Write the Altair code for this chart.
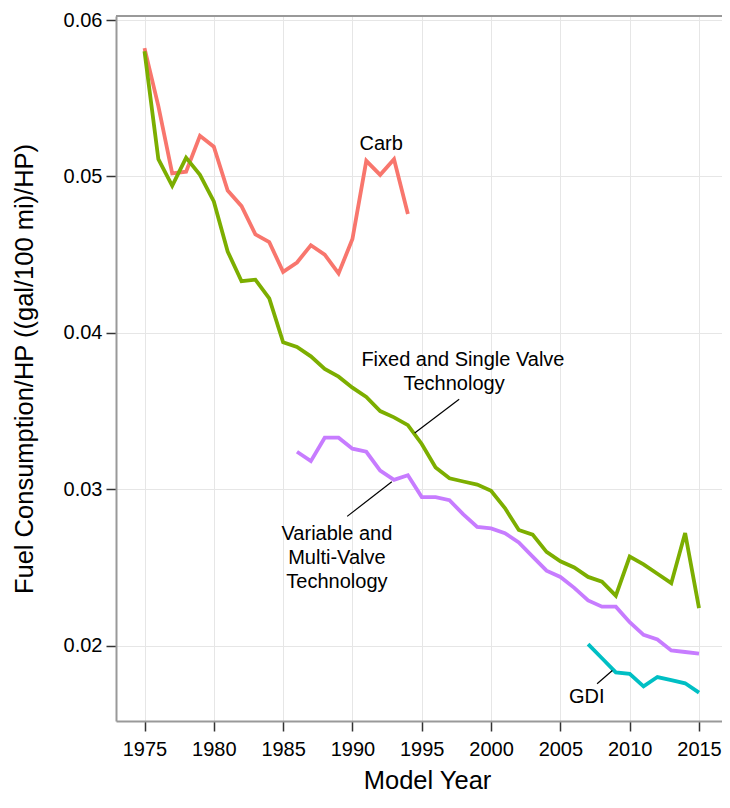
import altair as alt
import pandas as pd

# ---- data ----
carb_years = list(range(1975, 1995))
carb_vals = [0.0582, 0.0545, 0.0502, 0.0503, 0.0526, 0.0519, 0.0491, 0.0481, 0.0463, 0.0458,
             0.0439, 0.0445, 0.0456, 0.0450, 0.0438, 0.0460, 0.0510, 0.0501, 0.0511, 0.0476]

fixed_years = list(range(1975, 2016))
fixed_vals = [0.0580, 0.0511, 0.0494, 0.0512, 0.0501, 0.0484, 0.0452, 0.0433, 0.0434, 0.0422,
              0.0394, 0.0391, 0.0385, 0.0377, 0.0372, 0.0365, 0.0359, 0.0350, 0.0346, 0.0341,
              0.0329, 0.0314, 0.0307, 0.0305, 0.0303, 0.0299, 0.0288, 0.0274, 0.0271, 0.0260,
              0.0254, 0.0250, 0.0244, 0.0241, 0.0232, 0.0257, 0.0252, 0.0246, 0.0240, 0.0272,
              0.0224]

var_years = list(range(1986, 2016))
var_vals = [0.0324, 0.0318, 0.0333, 0.0333, 0.0326, 0.0324, 0.0312, 0.0306, 0.0309, 0.0295,
            0.0295, 0.0293, 0.0284, 0.0276, 0.0275, 0.0272, 0.0266, 0.0257, 0.0248, 0.0244,
            0.0237, 0.0229, 0.0225, 0.0225, 0.0215, 0.0207, 0.0204, 0.0197, 0.0196, 0.0195]

gdi_years = list(range(2007, 2016))
gdi_vals = [0.0201, 0.0192, 0.0183, 0.0182, 0.0174, 0.0180, 0.0178, 0.0176, 0.0170]

series_names = ["Carb", "Fixed", "GDI", "Variable"]
series_colors = ["#F8766D", "#7CAE00", "#00BFC4", "#C77CFF"]

x_ticks = [1975, 1980, 1985, 1990, 1995, 2000, 2005, 2010, 2015]
y_ticks = [0.02, 0.03, 0.04, 0.05, 0.06]

ann_text = ["Carb", "Fixed and Single Valve", "Technology", "Variable and", "Multi-Valve",
            "Technology", "GDI"]
ann_x = [1992.07, 1997.97, 1997.33, 1988.88, 1988.88, 1988.88, 2006.90]
ann_y = [0.05168, 0.03787, 0.03636, 0.02673, 0.02520, 0.02370, 0.01635]

seg_x = [1997.70, 1989.62, 2007.65]
seg_y = [0.03576, 0.02827, 0.01757]
seg_x2 = [1994.49, 1992.84, 2008.75]
seg_y2 = [0.03360, 0.03048, 0.01842]

# ---- tables ----
rows = []
for name, ys, vs in [("Carb", carb_years, carb_vals), ("Fixed", fixed_years, fixed_vals),
                     ("GDI", gdi_years, gdi_vals), ("Variable", var_years, var_vals)]:
    for y, v in zip(ys, vs):
        rows.append({"series": name, "year": y, "value": v})
lines_df = pd.DataFrame(rows)
ann_df = pd.DataFrame({"text": ann_text, "x": ann_x, "y": ann_y})
seg_df = pd.DataFrame({"x": seg_x, "y": seg_y, "x2": seg_x2, "y2": seg_y2})

FONT = "Liberation Sans"
W, H = 606, 705

xscale = alt.Scale(domain=[1972.944, 2016.659], nice=False, zero=False)
yscale = alt.Scale(domain=[0.015189, 0.060256], nice=False, zero=False)

xaxis = alt.Axis(values=x_ticks, format="d", title="Model Year", labelFlush=False,
                 labelFontSize=20, labelPadding=8, tickSize=10, tickWidth=1.5,
                 tickColor="#333333", domainColor="#999999", domainWidth=2,
                 gridColor="#e6e6e6", gridWidth=1, labelColor="#000000",
                 titleFontSize=25.5, titleFontWeight="normal", titleColor="#000000",
                 titleBaseline="alphabetic", titleY=67, titleX=311, titleAlign="center")
yaxis = alt.Axis(values=y_ticks, format=".2f", title="Fuel Consumption/HP ((gal/100 mi)/HP)",
                 labelFontSize=20, labelPadding=4, tickSize=10, tickWidth=1.5,
                 tickColor="#333333", domainColor="#999999", domainWidth=2,
                 gridColor="#e6e6e6", gridWidth=1, labelColor="#000000",
                 titleFontSize=25.5, titleFontWeight="normal", titleColor="#000000",
                 titleBaseline="alphabetic", titleX=-84, titleY=H / 2, titleAngle=270,
                 titleAlign="center")

lines = alt.Chart(lines_df).mark_line(strokeWidth=3.8, clip=True).encode(
    x=alt.X("year:Q", scale=xscale, axis=xaxis),
    y=alt.Y("value:Q", scale=yscale, axis=yaxis),
    color=alt.Color("series:N", scale=alt.Scale(domain=series_names, range=series_colors),
                    legend=None),
    order="year:Q",
)

segs = alt.Chart(seg_df).mark_rule(color="#000000", strokeWidth=1.2).encode(
    x=alt.X("x:Q", scale=xscale), y=alt.Y("y:Q", scale=yscale),
    x2="x2:Q", y2="y2:Q",
)

texts = alt.Chart(ann_df).mark_text(font=FONT, fontSize=20, align="center",
                                    baseline="alphabetic", color="#000000").encode(
    x=alt.X("x:Q", scale=xscale), y=alt.Y("y:Q", scale=yscale), text="text:N",
)

top_border = alt.Chart(pd.DataFrame({"k": [0]})).mark_rule(color="#999999", strokeWidth=2).encode(
    x=alt.value(0), x2=alt.value(W), y=alt.value(0),
)

chart = alt.layer(lines, segs, texts, top_border).properties(
    width=W, height=H,
    autosize=alt.AutoSizeParams(type="none"),
    padding={"left": 108, "top": 8, "right": 0, "bottom": 74},
    background="white",
).configure_view(strokeWidth=0).configure_axis(
    labelFont=FONT, titleFont=FONT,
).configure_text(font=FONT)

chart.save("out.html", embed_options={"renderer": "svg", "actions": False})
